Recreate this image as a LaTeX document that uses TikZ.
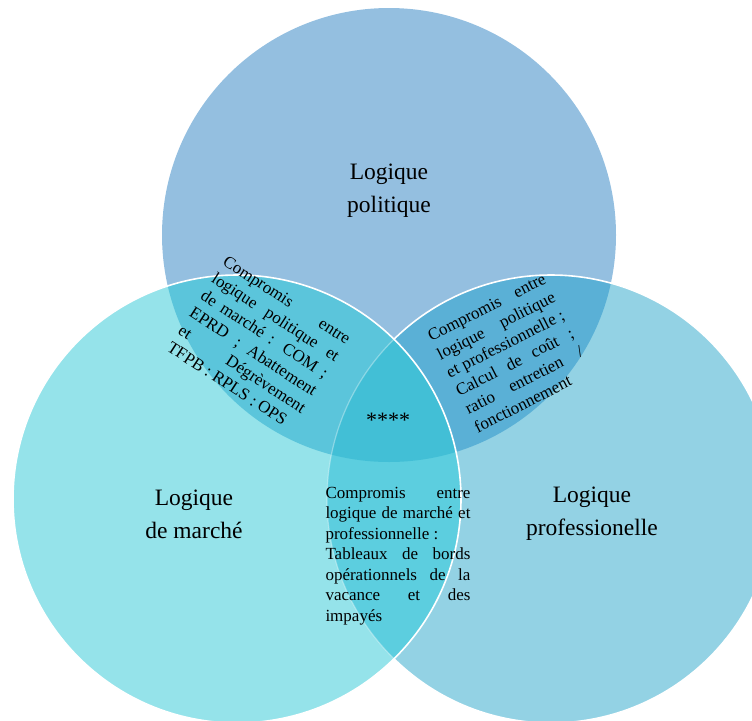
\documentclass[tikz,border=0pt]{standalone}
\usepackage{fontspec}
\setmainfont{Liberation Serif}
\definecolor{polfill}{HTML}{94BFE0}
\definecolor{marfill}{HTML}{95E3EA}
\definecolor{profill}{HTML}{93D2E4}
\definecolor{polmarfill}{HTML}{5BC5DB}
\definecolor{polprofill}{HTML}{5AB0D6}
\definecolor{marprofill}{HTML}{5CCEDF}
\definecolor{allfill}{HTML}{42BFD6}
\tikzset{
  biglabel/.style={align=center, font=\fontsize{23.5}{33}\selectfont},
  smallbox/.style={align=justify, font=\fontsize{17}{20.5}\selectfont},
}
\begin{document}
\begin{tikzpicture}[x=1pt,y=-1pt]
\tikzstyle{every node}+=[inner sep=0pt]
\useasboundingbox (0,0) rectangle (752,720);
\clip (0,0) rectangle (752,720);
\coordinate (cpol) at (389,235);
\coordinate (cmar) at (237,499);
\coordinate (cpro) at (551,499);
\fill [polfill] (cpol) circle [radius=227pt];
\fill [profill] (cpro) circle [radius=224pt];
\begin{scope}
\clip (cpol) circle [radius=227pt];
\fill [polprofill] (cpro) circle [radius=224pt];
\end{scope}
\draw [white, line width=1.6pt] (cpro) circle [radius=224pt];
\fill [marfill] (cmar) circle [radius=224pt];
\begin{scope}
\clip (cmar) circle [radius=224pt];
\fill [polmarfill] (cpol) circle [radius=227pt];
\fill [marprofill] (cpro) circle [radius=224pt];
\clip (cpol) circle [radius=227pt];
\fill [allfill] (cpro) circle [radius=224pt];
\end{scope}
\begin{scope}
\clip (cmar) circle [radius=224pt];
\draw [white, opacity=0.35, line width=1.2pt] (cpro) circle [radius=224pt];
\end{scope}
\draw [white, line width=1.6pt] (cmar) circle [radius=224pt];
\node (polname) [biglabel] at (389,191) {Logique\\politique};
\node (marname) [biglabel] at (194,514) {Logique\\de marché};
\node (proname) [biglabel] at (592,514) {Logique\\professionelle};
\node (allname) [font=\fontsize{22}{24}\selectfont] at (388,420) {****};
\node (polmartext) [smallbox, text width=148pt, rotate=-33] at (259,343) {Compromis entre\linebreak logique politique et\linebreak de marché : COM ;\linebreak EPRD ; Abattement\linebreak et Dégrèvement\linebreak TFPB : RPLS : OPS};
\node (polprotext) [smallbox, text width=130pt, rotate=27] at (510,353) {Compromis entre\linebreak logique politique\linebreak et professionnelle ;\linebreak Calcul de coût ;\linebreak ratio entretien /\linebreak fonctionnement};
\node (marprotext) [smallbox, text width=145pt] at (398,556) {Compromis entre\linebreak logique de marché et\linebreak professionnelle :\newline Tableaux de bords\linebreak opérationnels de la\linebreak vacance et des\linebreak impayés};
\end{tikzpicture}
\end{document}
